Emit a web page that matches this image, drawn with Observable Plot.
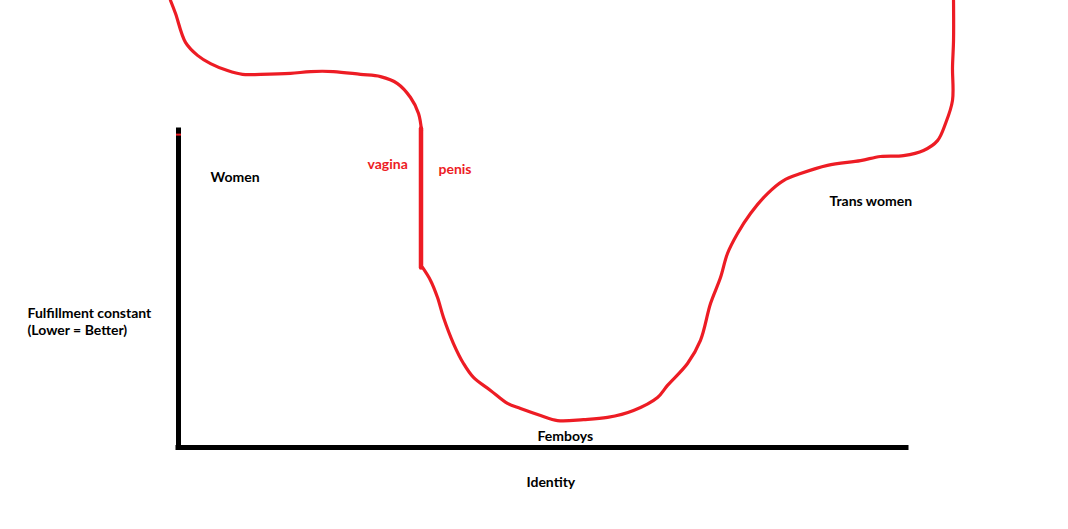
<!DOCTYPE html>
<html>
<head>
<meta charset="utf-8">
<script src="https://cdn.jsdelivr.net/npm/d3@7"></script>
<script src="https://cdn.jsdelivr.net/npm/@observablehq/plot@0.6"></script>
<style>
  html, body { margin: 0; padding: 0; background: #fff; }
  #chart svg { display: block; }
</style>
</head>
<body>
<div id="chart"></div>
<script>
// Curve segments (identity, fulfillment)
const upperX = [-1.10, -0.41, 0.96, 2.61, 4.40, 6.73, 8.79, 11.26, 15.38, 18.13, 21.29, 25.00, 27.75, 30.08, 31.87, 32.97, 33.38];
const upperY = [14.10, 13.69, 12.78, 12.37, 12.11, 11.89, 11.77, 11.77, 11.80, 11.86, 11.86, 11.77, 11.70, 11.48, 11.04, 10.54, 10.00];
const stemX = [33.31, 33.31];
const stemY = [10.06, 5.68];
const lowerX = [33.52, 34.62, 35.58, 36.40, 37.77, 39.15, 40.52, 42.86, 45.19, 46.98, 49.73, 52.06, 55.63, 58.93, 62.50, 65.80, 67.17, 69.92, 71.70, 73.08, 74.45, 75.41, 76.79, 78.57, 80.91, 83.10, 85.44, 89.15, 93.68, 96.43, 99.59, 102.34, 104.26, 105.36, 106.32, 106.32, 106.46, 106.46];
const lowerY = [5.68, 5.27, 4.73, 4.10, 3.28, 2.65, 2.21, 1.80, 1.39, 1.23, 1.01, 0.85, 0.88, 0.95, 1.17, 1.58, 1.96, 2.65, 3.38, 4.54, 5.36, 6.12, 6.75, 7.38, 8.01, 8.42, 8.64, 8.90, 9.05, 9.18, 9.21, 9.37, 9.68, 10.22, 10.95, 11.99, 12.84, 14.10];

// Black labels
const labelText = ["Women", "Femboys", "Trans women", "Identity", "Fulfillment constant\n(Lower = Better)"];
const labelX = [4.40, 49.31, 89.42, 47.80, -20.74];
const labelY = [8.36, 0.22, 7.63, -1.26, 3.56];
// Red labels
const redText = ["vagina", "penis"];
const redX = [25.96, 35.71];
const redY = [8.77, 8.64];

const RED = "#ED1C24";
const zip = (xs, ys) => xs.map((x, i) => ({x, y: ys[i]}));
const labels = labelText.map((t, i) => ({t, x: labelX[i], y: labelY[i]}));
const reds = redText.map((t, i) => ({t, x: redX[i], y: redY[i]}));

const chart = Plot.plot({
  width: 1068,
  height: 529,
  marginLeft: 178,
  marginRight: 162,
  marginTop: 130,
  marginBottom: 82,
  x: {domain: [0, 100], axis: null},
  y: {domain: [0, 10], axis: null},
  style: {background: "#fff", fontFamily: "Lato, 'Open Sans', sans-serif"},
  marks: [
    Plot.ruleX([0], {y1: 0, y2: 10, stroke: "#000", strokeWidth: 5, strokeLinecap: "square"}),
    Plot.ruleY([0], {x1: 0, x2: 100, stroke: "#000", strokeWidth: 5, strokeLinecap: "square"}),
    Plot.ruleY([9.87], {x1: -0.27, x2: 0.41, stroke: RED, strokeWidth: 2}),
    Plot.line(zip(upperX, upperY), {x: "x", y: "y", stroke: RED, strokeWidth: 3.2, curve: "catmull-rom"}),
    Plot.line(zip(stemX, stemY), {x: "x", y: "y", stroke: RED, strokeWidth: 4.5}),
    Plot.line(zip(lowerX, lowerY), {x: "x", y: "y", stroke: RED, strokeWidth: 3.2, curve: "catmull-rom"}),
    Plot.text(labels, {x: "x", y: "y", text: "t", fill: "#000", textAnchor: "start", lineAnchor: "bottom", fontSize: 14, fontWeight: "bold", lineHeight: 1.2}),
    Plot.text(reds, {x: "x", y: "y", text: "t", fill: RED, textAnchor: "start", lineAnchor: "bottom", fontSize: 14, fontWeight: "bold"})
  ]
});
document.getElementById("chart").appendChild(chart);
</script>
</body>
</html>
